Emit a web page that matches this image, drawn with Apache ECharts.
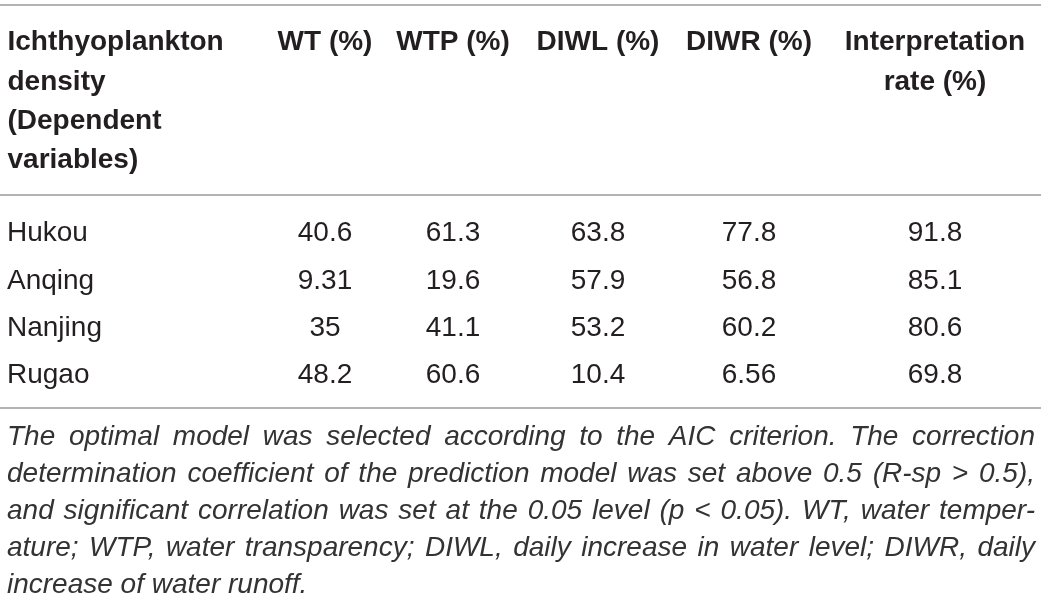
<!DOCTYPE html>
<html>
<head>
<meta charset="utf-8">
<script src="https://cdn.jsdelivr.net/npm/echarts@6/dist/echarts.min.js"></script>
<style>
html,body{margin:0;padding:0;background:#ffffff;}
#chart{width:1041px;height:601px;}
</style>
</head>
<body>
<div id="chart"></div>
<script>
// ---- data ----
const rowHeader = 'Ichthyoplankton\ndensity\n(Dependent\nvariables)';
const columns = ['WT (%)', 'WTP (%)', 'DIWL (%)', 'DIWR (%)', 'Interpretation\nrate (%)'];
const sites = ['Hukou', 'Anqing', 'Nanjing', 'Rugao'];
const wt = [40.6, 9.31, 35, 48.2];
const wtp = [61.3, 19.6, 41.1, 60.6];
const diwl = [63.8, 57.9, 53.2, 10.4];
const diwr = [77.8, 56.8, 60.2, 6.56];
const interp = [91.8, 85.1, 80.6, 69.8];
const footnoteLines = [
  'The optimal model was selected according to the AIC criterion. The correction',
  'determination coefficient of the prediction model was set above 0.5 (R-sp > 0.5),',
  'and significant correlation was set at the 0.05 level (p < 0.05). WT, water temper-',
  'ature; WTP, water transparency; DIWL, daily increase in water level; DIWR, daily',
  'increase of water runoff.'
];
const columnValues = [wt, wtp, diwl, diwr, interp];

// ---- layout / style ----
const colCenters = [325, 453, 598, 749, 935];
const gridTop = 210, gridHeight = 189;
const headerTop = 23;
const textColor = '#231f20';
const fontFamily = '"Liberation Sans", Arial, Helvetica, sans-serif';
const fs = 28;

const grids = [{ left: 7, top: gridTop, width: 1, height: gridHeight }];
const xAxes = [{
  type: 'category', gridIndex: 0, position: 'top', data: [rowHeader],
  axisLine: { show: false }, axisTick: { show: false }, splitLine: { show: false },
  axisLabel: {
    interval: 0, align: 'left', verticalAlign: 'top', margin: gridTop - headerTop,
    fontSize: fs, fontWeight: 'bold', color: textColor, fontFamily: fontFamily, lineHeight: 39.3
  }
}];
const yAxes = [{
  type: 'category', gridIndex: 0, data: sites, inverse: true,
  axisLine: { show: false }, axisTick: { show: false }, splitLine: { show: false },
  axisLabel: { interval: 0, align: 'left', margin: 0, fontSize: fs, color: textColor, fontFamily: fontFamily }
}];
const series = [];

columns.forEach((col, k) => {
  const gi = k + 1;
  grids.push({ left: colCenters[k] - 40, top: gridTop, width: 80, height: gridHeight });
  xAxes.push({
    type: 'category', gridIndex: gi, position: 'top', data: [col],
    axisLine: { show: false }, axisTick: { show: false }, splitLine: { show: false },
    axisLabel: {
      interval: 0, align: 'center', verticalAlign: 'top', margin: gridTop - headerTop,
      fontSize: fs, fontWeight: 'bold', color: textColor, fontFamily: fontFamily, lineHeight: 39.3
    }
  });
  yAxes.push({ type: 'category', gridIndex: gi, data: sites, inverse: true, show: false });
  series.push({
    type: 'scatter', xAxisIndex: gi, yAxisIndex: gi, silent: true,
    symbolSize: 1, itemStyle: { color: 'rgba(0,0,0,0)', opacity: 1 },
    data: columnValues[k].map((v, i) => [0, i, v]),
    label: {
      show: true, position: 'inside', formatter: p => String(p.value[2]),
      fontSize: fs, color: textColor, fontFamily: fontFamily, opacity: 1
    }
  });
});

// horizontal rules
const graphics = [5, 195, 408].map(y => ({
  type: 'line', shape: { x1: 0, y1: y, x2: 1041, y2: y },
  style: { stroke: '#9a9a9a', lineWidth: 1.5 }, silent: true
}));

// justified footnote
const fnFs = 28;
const fnFont = 'italic ' + fnFs + 'px ' + fontFamily;
const ctx = document.createElement('canvas').getContext('2d');
ctx.font = fnFont;
const fnLeft = 7, fnRight = 1035, fnBase0 = 446, fnStep = 37;
footnoteLines.forEach((line, li) => {
  const words = line.split(' ');
  const widths = words.map(w => ctx.measureText(w).width);
  const total = widths.reduce((a, b) => a + b, 0);
  const spaceW = ctx.measureText(' ').width;
  const justify = li < footnoteLines.length - 1 && words.length > 1;
  let gap = justify ? (fnRight - fnLeft - total) / (words.length - 1) : spaceW;
  if (gap < 3) gap = 3;
  let x = fnLeft;
  const y = fnBase0 + li * fnStep - fnFs * 0.33;
  words.forEach((w, wi) => {
    graphics.push({
      type: 'text', x: x, y: y, silent: true,
      style: {
        text: w, font: fnFont, fill: '#333333',
        textAlign: 'left', textVerticalAlign: 'middle'
      }
    });
    x += widths[wi] + gap;
  });
});

const chart = echarts.init(document.getElementById('chart'));
chart.setOption({
  animation: false,
  backgroundColor: '#ffffff',
  grid: grids,
  xAxis: xAxes,
  yAxis: yAxes,
  series: series,
  graphic: graphics
});
</script>
</body>
</html>
